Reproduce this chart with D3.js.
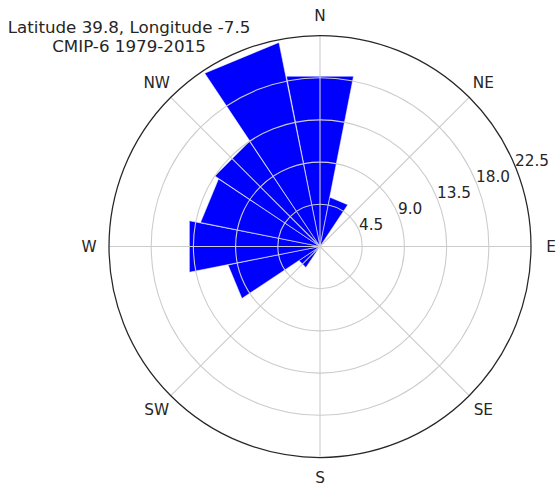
<!DOCTYPE html>
<html>
<head>
<meta charset="utf-8">
<script src="https://cdn.jsdelivr.net/npm/d3@7"></script>
<style>
  html, body { margin: 0; padding: 0; background: #ffffff; }
  svg { display: block; }
  text { font-family: "DejaVu Sans", sans-serif; fill: #262626; }
</style>
</head>
<body>
<svg id="chart" width="558" height="486"></svg>
<script>
// ---- data ----
const directions = ["N","NNE","NE","ENE","E","ESE","SE","SSE","S","SSW","SW","WSW","W","WNW","NW","NNW"];
const frequencies = [18.5, 5.35, 0, 0, 0, 0, 0, 0, 0, 0, 2.7, 10.0, 14.2, 13.0, 13.5, 22.2];
const compassLabels = ["N","NE","E","SE","S","SW","W","NW"];
const radialTicks = [4.5, 9.0, 13.5, 18.0, 22.5];
const radialMax = 22.5;
const titleLines = ["Latitude 39.8, Longitude -7.5", "CMIP-6 1979-2015"];

// ---- layout ----
const cx = 320, cy = 246.5, R = 211;
const svg = d3.select("#chart");
const g = svg.append("g").attr("transform", `translate(${cx},${cy})`);

const r = d3.scaleLinear().domain([0, radialMax]).range([0, R]);
const theta = d3.scaleLinear().domain([0, directions.length]).range([0, 2 * Math.PI]);
const compassTheta = d3.scaleLinear().domain([0, compassLabels.length]).range([0, 2 * Math.PI]);
const halfW = (theta(1) - theta(0)) / 2 * 0.99;

const pt = (a, rad) => [rad * Math.sin(a), -rad * Math.cos(a)];

// bars (flat-topped wedges)
g.append("g").selectAll("path")
  .data(frequencies.map((v, i) => ({v, i})).filter(d => d.v > 0))
  .join("path")
  .attr("d", d => {
    const a = theta(d.i);
    const rr = r(d.v);
    return d3.line()([[0, 0], pt(a - halfW, rr), pt(a + halfW, rr)]) + "Z";
  })
  .attr("fill", "#0000ff")
  .attr("stroke", "#ffffff")
  .attr("stroke-width", 0.5)
  .attr("stroke-linejoin", "miter");

// grid circles
const grid = g.append("g");
grid.selectAll("circle")
  .data(radialTicks.filter(t => t < radialMax))
  .join("circle")
  .attr("r", d => r(d))
  .attr("fill", "none")
  .attr("stroke", "#cccccc")
  .attr("stroke-width", 1.1);

// radial grid lines
grid.selectAll("line")
  .data(compassLabels.map((d, i) => i))
  .join("line")
  .attr("x1", 0).attr("y1", 0)
  .attr("x2", i => pt(compassTheta(i), R)[0])
  .attr("y2", i => pt(compassTheta(i), R)[1])
  .attr("stroke", "#cccccc")
  .attr("stroke-width", 1.1);

// outer spine
g.append("circle")
  .attr("r", R)
  .attr("fill", "none")
  .attr("stroke", "#262626")
  .attr("stroke-width", 1.25);

// radial tick labels at 22.5 degrees
const labAngle = Math.PI / 2 - Math.PI / 8;
g.append("g").selectAll("text")
  .data(radialTicks)
  .join("text")
  .attr("x", d => pt(labAngle, r(d))[0])
  .attr("y", d => pt(labAngle, r(d))[1])
  .attr("text-anchor", "start")
  .attr("font-size", "15.3px")
  .text(d => d.toFixed(1));

// compass labels
g.append("g").selectAll("text")
  .data(compassLabels)
  .join("text")
  .attr("x", (d, i) => pt(compassTheta(i), R + 20)[0])
  .attr("y", (d, i) => pt(compassTheta(i), R + 20)[1])
  .attr("text-anchor", "middle")
  .attr("dominant-baseline", "central")
  .attr("font-size", "15.3px")
  .text(d => d);

// title
svg.append("g").selectAll("text")
  .data(titleLines)
  .join("text")
  .attr("x", 129)
  .attr("y", (d, i) => 32.5 + i * 19)
  .attr("text-anchor", "middle")
  .attr("font-size", "16.7px")
  .text(d => d);
</script>
</body>
</html>
